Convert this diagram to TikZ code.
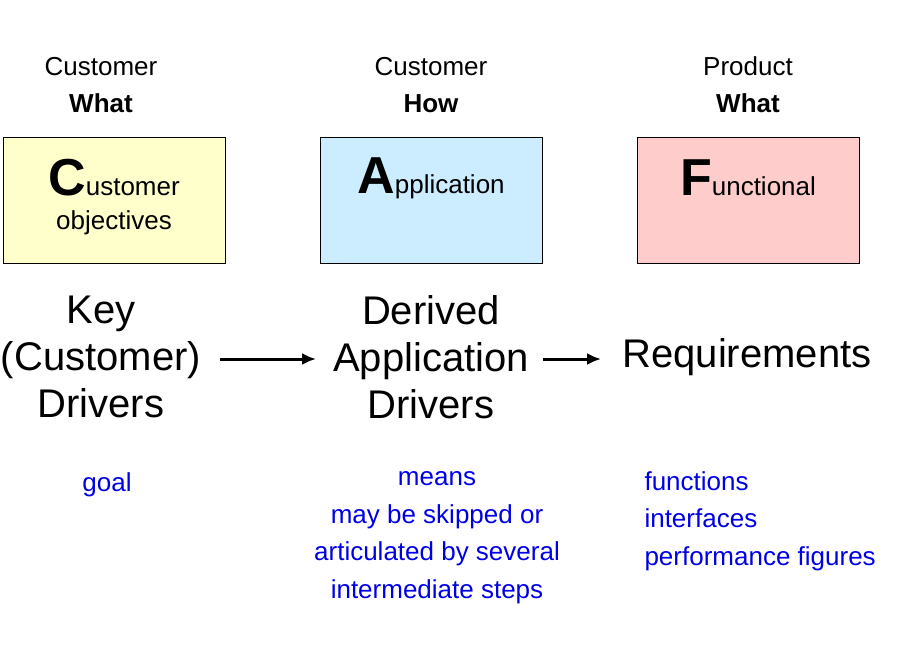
\documentclass[tikz,border=0pt]{standalone}
\usepackage{fontspec}
\setmainfont{Liberation Sans}
\usetikzlibrary{arrows.meta}
\definecolor{cy}{RGB}{255,255,204}
\definecolor{cb}{RGB}{204,236,255}
\definecolor{cp}{RGB}{255,204,204}
\definecolor{bt}{RGB}{0,0,230}
\begin{document}
\begin{tikzpicture}[x=1pt,y=-1pt,
 box/.style={draw=black,line width=0.8pt,minimum width=222pt,minimum height=126pt,anchor=north west,inner sep=0pt},
 hd/.style={font=\fontsize{26}{37}\selectfont,align=center},
 big/.style={font=\fontsize{40}{47}\selectfont,align=center},
 note/.style={font=\fontsize{26}{37.5}\selectfont,text=bt},
 arr/.style={-{Latex[length=14pt,width=12pt]},line width=3pt}]
\useasboundingbox (0,0) rectangle (920,660);
\node[hd] (h1) at (101,85) {Customer\\\textbf{What}};
\node[hd] (h2) at (431,85) {Customer\\\textbf{How}};
\node[hd] (h3) at (748,85) {Product\\\textbf{What}};
\node[box,fill=cy] (bc) at (3,137) {};
\node[box,fill=cb] (ba) at (320,137) {};
\node[box,fill=cp] (bf) at (637,137) {};
\node[align=center,font=\fontsize{26}{40}\selectfont] (tc) at (114,197) {{\fontsize{52}{52}\selectfont\textbf{C}}ustomer\\[-6pt]objectives};
\node[font=\fontsize{26}{30}\selectfont] (ta) at (431,178) {{\fontsize{52}{52}\selectfont\textbf{A}}pplication};
\node[font=\fontsize{26}{30}\selectfont] (tf) at (748,178) {{\fontsize{52}{52}\selectfont\textbf{F}}unctional};
\node[big] (k) at (101,357) {Key\\(Customer)\\Drivers};
\node[big] (d) at (431,357) {Derived\\Application\\Drivers};
\node[big] (r) at (747,357) {Requirements};
\coordinate (a1s) at (220,359); \coordinate (a1e) at (316,359);
\coordinate (a2s) at (543,359); \coordinate (a2e) at (601,359);
\draw[arr] (a1s) -- (a1e);
\draw[arr] (a2s) -- (a2e);
\node[note] (g) at (107,485) {goal};
\node[note,align=center,anchor=north] (m) at (437,468) {means\\may be skipped or\\articulated by several\\intermediate steps};
\node[note,align=left,anchor=north west] (f) at (641,468) {functions\\interfaces\\performance figures};
\end{tikzpicture}
\end{document}
